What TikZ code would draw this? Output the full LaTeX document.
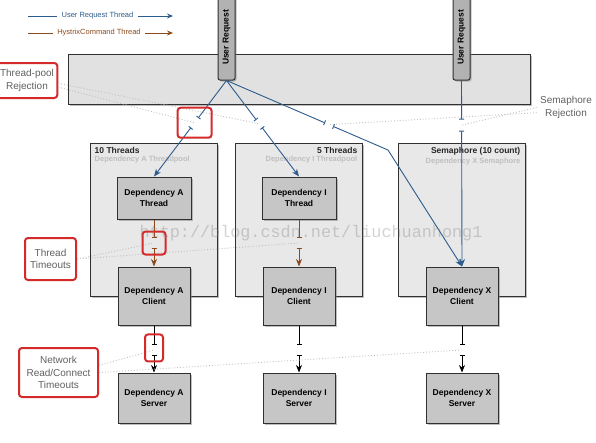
\documentclass[tikz,border=0pt]{standalone}
\usepackage{fontspec}
\setmainfont{Liberation Sans}
\newfontfamily\wmfont{Liberation Mono}
\usetikzlibrary{arrows.meta,calc,shadows}

\definecolor{userblue}{HTML}{2D5B8C}
\definecolor{cmdbrown}{HTML}{8B4A1C}
\definecolor{alarmred}{HTML}{D42A2A}
\definecolor{boxgray}{HTML}{C6C6C6}
\definecolor{poolgray}{HTML}{E8E8E8}
\definecolor{bargray}{HTML}{B2B2B2}
\definecolor{edgegray}{HTML}{303030}

\tikzset{
	shade box/.style={drop shadow={shadow xshift=1.5pt, shadow yshift=-1.5pt, opacity=0.5}},
	depbox/.style={draw=edgegray, line width=1pt, fill=boxgray, shade box, align=center,
		font=\fontsize{8.5}{11}\selectfont\bfseries, minimum width=72pt},
	poolbox/.style={draw=edgegray, line width=1pt, fill=poolgray, shade box,
		minimum width=127pt, minimum height=153pt},
	gatebox/.style={draw=edgegray, line width=1pt, fill=poolgray!97!black, shade box,
		minimum width=462pt, minimum height=50pt},
	reqbar/.style={draw=edgegray, line width=1pt, fill=bargray, rounded corners=2pt, shade box,
		minimum width=17pt, minimum height=85pt,
		label={[rotate=90, font=\fontsize{8.5}{10}\selectfont\bfseries]center:User Request}},
	pooltitle/.style={font=\fontsize{8.5}{10}\selectfont\bfseries, text=gray!30!black, inner sep=1pt},
	poolsub/.style={font=\fontsize{7.5}{9}\selectfont\bfseries, text=gray!50, inner sep=1pt},
	legendtext/.style={font=\fontsize{7.5}{9}\selectfont, inner sep=4pt},
	callout/.style={draw=alarmred, line width=2pt, rounded corners=3pt, fill=white, align=center,
		text=gray!75!black, font=\fontsize{10}{12.5}\selectfont},
	hlbox/.style={draw=alarmred, line width=2pt, rounded corners=3pt},
	userline/.style={draw=userblue, line width=0.9pt},
	cmdline/.style={draw=cmdbrown, line width=0.9pt},
	netline/.style={draw=black, line width=0.9pt},
	cut/.style={-{Bar[width=5pt]}},
	resume/.style={{Bar[width=5pt]}-{Stealth[length=7.5pt, width=6pt]}},
	rejline/.style={draw=gray!50, dotted, line width=0.9pt},
	watermark/.style={font=\wmfont\fontsize{16.8}{18}\selectfont, text=gray, opacity=0.35}
}

\begin{document}
\begin{tikzpicture}[x=1pt, y=-1pt]
		\useasboundingbox ( 0, 0 ) rectangle ( 596, 442 );

		% шлюз и входящие запросы
		\node [gatebox] (gate) at ( 299, 79 ) {};
		\node [reqbar] (req1) at ( 226.5, 37.5 ) {};
		\node [reqbar] (req2) at ( 461.5, 37.5 ) {};

		% пулы
		\node [poolbox] (poolA) at ( 153.5, 219.5 ) {};
		\node [poolbox] (poolI) at ( 298.5, 219.5 ) {};
		\node [poolbox] (poolX) at ( 461.5, 219.5 ) {};
		\node [pooltitle, anchor=north west] (ttlA) at ([xshift=4pt, yshift=-4pt]poolA.north west) {10 Threads};
		\node [poolsub, anchor=north west] (subA) at (ttlA.south west) {Dependency A Threadpool};
		\node [pooltitle, anchor=north east] (ttlI) at ([xshift=-4pt, yshift=-4pt]poolI.north east) {5 Threads};
		\node [poolsub, anchor=north east] (subI) at (ttlI.south east) {Dependency I Threadpool};
		\node [pooltitle, anchor=north east] (ttlX) at ([xshift=-4pt, yshift=-4pt]poolX.north east) {Semaphore (10 count)};
		\node [poolsub, anchor=north east] (subX) at (ttlX.south east) {Dependency X Semaphore};

		% зависимость A
		\node [depbox, minimum width=74pt, minimum height=42pt] (thrA) at ( 154, 198 ) {Dependency A\\Thread};
		\node [depbox, minimum height=58pt] (cliA) at ( 154, 296 ) {Dependency A\\Client};
		\node [depbox, minimum height=50pt] (srvA) at ( 154, 398 ) {Dependency A\\Server};

		% зависимость I
		\node [depbox, minimum width=74pt, minimum height=42pt] (thrI) at ( 299, 198 ) {Dependency I\\Thread};
		\node [depbox, minimum height=58pt] (cliI) at ( 299, 296 ) {Dependency I\\Client};
		\node [depbox, minimum height=50pt] (srvI) at ( 299, 398 ) {Dependency I\\Server};

		% зависимость X
		\node [depbox, minimum height=58pt] (cliX) at ( 462, 296 ) {Dependency X\\Client};
		\node [depbox, minimum height=50pt] (srvX) at ( 462, 398 ) {Dependency X\\Server};
		\coordinate (bendX) at ( 388, 150 );

		% запросы пользователя
		\draw [userline, cut] (req1.south) -- ($(req1.south)!0.39!(thrA.north)$);
		\draw [userline, resume] ($(req1.south)!0.49!(thrA.north)$) -- (thrA.north);
		\draw [userline, cut] (req1.south) -- ($(req1.south)!0.41!(thrI.north)$);
		\draw [userline, resume] ($(req1.south)!0.49!(thrI.north)$) -- (thrI.north);
		\draw [userline, cut] (req1.south) -- ($(req1.south)!0.61!(bendX)$);
		\draw [userline, resume] ($(req1.south)!0.66!(bendX)$) -- (bendX) -- (cliX.north);
		\draw [userline, cut] (req2.south) -- ($(req2.south)!0.21!(cliX.north)$);
		\draw [userline, resume] ($(req2.south)!0.27!(cliX.north)$) -- (cliX.north);

		% потоки HystrixCommand
		\draw [cmdline, cut] (thrA.south) -- ($(thrA.south)!0.40!(cliA.north)$);
		\draw [cmdline, resume] ($(thrA.south)!0.60!(cliA.north)$) -- (cliA.north);
		\draw [cmdline, cut] (thrI.south) -- ($(thrI.south)!0.40!(cliI.north)$);
		\draw [cmdline, resume] ($(thrI.south)!0.60!(cliI.north)$) -- (cliI.north);

		% сеть
		\draw [netline, cut] (cliA.south) -- ($(cliA.south)!0.42!(srvA.north)$);
		\draw [netline, resume] ($(cliA.south)!0.62!(srvA.north)$) -- (srvA.north);
		\draw [netline, cut] (cliI.south) -- ($(cliI.south)!0.42!(srvI.north)$);
		\draw [netline, resume] ($(cliI.south)!0.62!(srvI.north)$) -- (srvI.north);
		\draw [netline, cut] (cliX.south) -- ($(cliX.south)!0.42!(srvX.north)$);
		\draw [netline, resume] ($(cliX.south)!0.62!(srvX.north)$) -- (srvX.north);

		% точки отказа
		\coordinate (gapA) at ($(req1.south)!0.44!(thrA.north)$);
		\coordinate (gapI) at ($(req1.south)!0.45!(thrI.north)$);
		\coordinate (gapV) at ($(req1.south)!0.635!(bendX)$);
		\coordinate (gapX) at ($(req2.south)!0.24!(cliX.north)$);
		\coordinate (gapTA) at ($(thrA.south)!0.5!(cliA.north)$);
		\coordinate (gapTI) at ($(thrI.south)!0.5!(cliI.north)$);
		\coordinate (gapNA) at ($(cliA.south)!0.52!(srvA.north)$);
		\coordinate (gapNX) at ($(cliX.south)!0.52!(srvX.north)$);

		% подписи
		\node [callout, minimum width=60pt, minimum height=35pt] (tpRej) at ( 27, 80.5 ) {Thread-pool\\Rejection};
		\node [align=center, text=gray!75!black, font=\fontsize{10}{12.5}\selectfont] (semRej) at ( 566, 107.5 ) {Semaphore\\Rejection};
		\node [callout, minimum width=51pt, minimum height=42pt] (thrTo) at ( 50.5, 259 ) {Thread\\Timeouts};
		\node [callout, minimum width=79pt, minimum height=49pt] (netTo) at ( 58.5, 372.5 ) {Network\\Read/Connect\\Timeouts};

		\draw [rejline] (tpRej.-12) -- (gapA);
		\draw [rejline] (tpRej.-5) -- (gapI);
		\draw [rejline] (semRej.west) -- (gapX);
		\draw [rejline] (semRej.-170) -- (gapV);
		\draw [rejline] (thrTo.east) -- (gapTA);
		\draw [rejline] (thrTo.east) -- (gapTI);
		\draw [rejline] (netTo.10) -- (gapNA);
		\draw [rejline] (netTo.east) -- (gapNX);

		\node [hlbox, minimum width=34pt, minimum height=30pt] (hlRej) at (gapA) {};
		\node [hlbox, minimum width=23pt, minimum height=23pt] (hlThr) at (gapTA) {};
		\node [hlbox, minimum width=18pt, minimum height=27pt] (hlNet) at ($(gapNA)+(0,-2)$) {};

		\node [watermark] (wm) at ( 311, 233 ) {http://blog.csdn.net/liuchuanhong1};

		% легенда
		\coordinate (lgU0) at ( 28, 16 );
		\coordinate (lgU1) at ( 173, 16 );
		\coordinate (lgH0) at ( 28, 33 );
		\coordinate (lgH1) at ( 173, 33 );
		\node [legendtext, text=userblue] (lgUser) at ( 97.5, 16 ) {User Request Thread};
		\node [legendtext, text=cmdbrown] (lgCmd) at ( 99, 33 ) {HystrixCommand Thread};
		\draw [userline] (lgU0) -- (lgUser.west);
		\draw [userline, -{Stealth[length=6pt, width=5pt]}] (lgUser.east) -- (lgU1);
		\draw [cmdline] (lgH0) -- (lgCmd.west);
		\draw [cmdline, -{Stealth[length=6pt, width=5pt]}] (lgCmd.east) -- (lgH1);
	\end{tikzpicture}
\end{document}
